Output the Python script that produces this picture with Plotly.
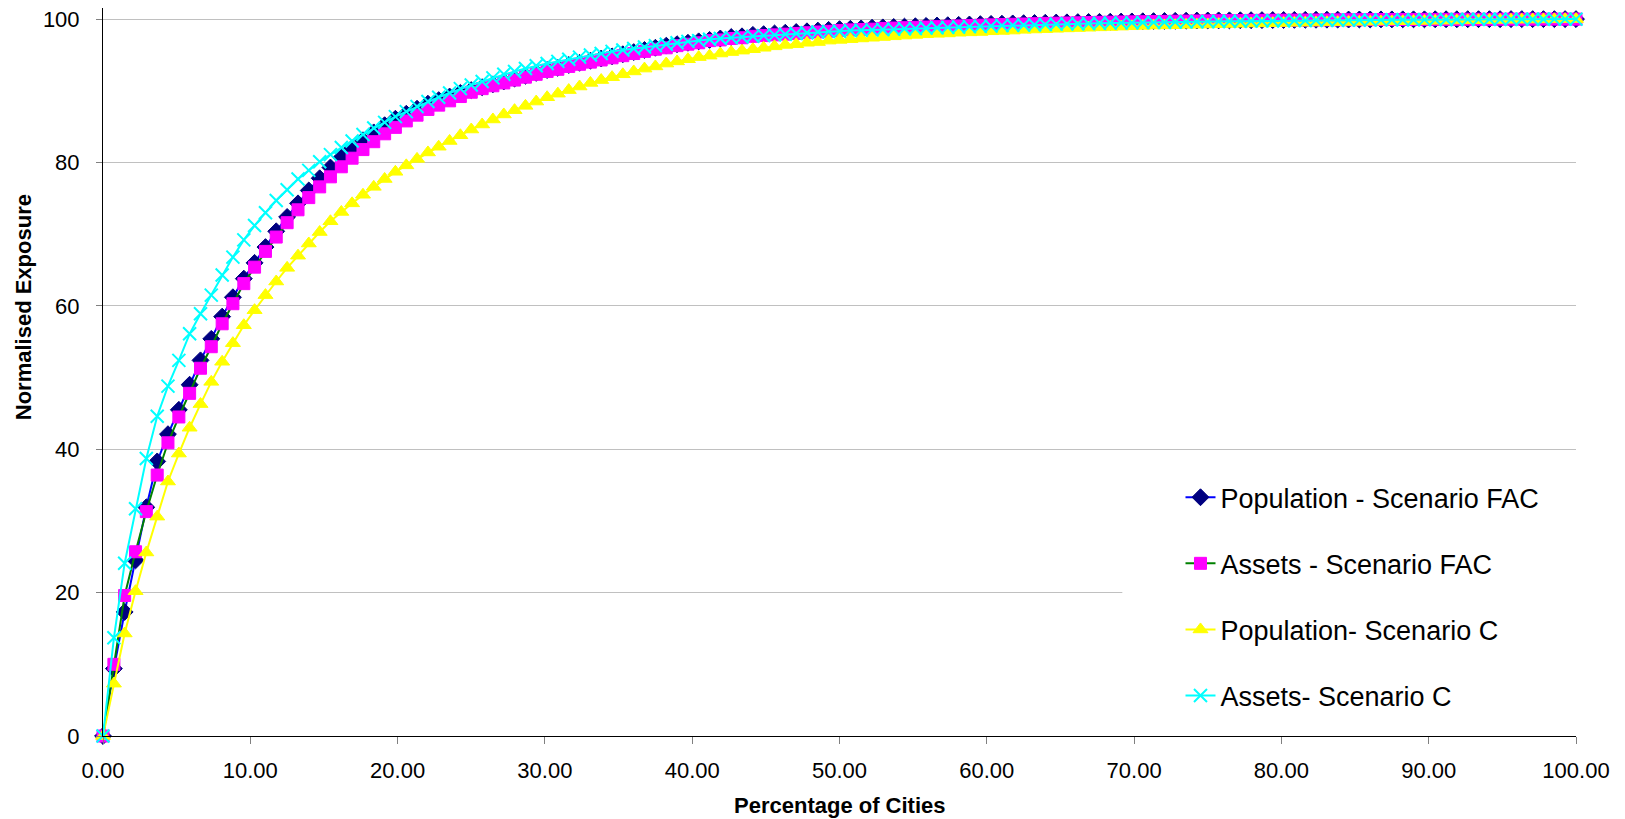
import plotly.graph_objects as go

# Percentage of cities (x)
pct_cities = [
    0.00, 0.74, 1.47, 2.21, 2.94, 3.68, 4.41, 5.15, 5.88, 6.62,
    7.35, 8.09, 8.82, 9.56, 10.29, 11.03, 11.76, 12.50, 13.24, 13.97,
    14.71, 15.44, 16.18, 16.91, 17.65, 18.38, 19.12, 19.85, 20.59, 21.32,
    22.06, 22.79, 23.53, 24.26, 25.00, 25.74, 26.47, 27.21, 27.94, 28.68,
    29.41, 30.15, 30.88, 31.62, 32.35, 33.09, 33.82, 34.56, 35.29, 36.03,
    36.76, 37.50, 38.24, 38.97, 39.71, 40.44, 41.18, 41.91, 42.65, 43.38,
    44.12, 44.85, 45.59, 46.32, 47.06, 47.79, 48.53, 49.26, 50.00, 50.74,
    51.47, 52.21, 52.94, 53.68, 54.41, 55.15, 55.88, 56.62, 57.35, 58.09,
    58.82, 59.56, 60.29, 61.03, 61.76, 62.50, 63.24, 63.97, 64.71, 65.44,
    66.18, 66.91, 67.65, 68.38, 69.12, 69.85, 70.59, 71.32, 72.06, 72.79,
    73.53, 74.26, 75.00, 75.74, 76.47, 77.21, 77.94, 78.68, 79.41, 80.15,
    80.88, 81.62, 82.35, 83.09, 83.82, 84.56, 85.29, 86.03, 86.76, 87.50,
    88.24, 88.97, 89.71, 90.44, 91.18, 91.91, 92.65, 93.38, 94.12, 94.85,
    95.59, 96.32, 97.06, 97.79, 98.53, 99.26, 100.00,
]

pop_fac = [
    0, 9.4, 17.3, 24.5, 31.9, 38.3, 42.1, 45.5, 49.0, 52.4,
    55.4, 58.5, 61.2, 63.8, 66.0, 68.2, 70.4, 72.4, 74.3, 76.1,
    77.8, 79.3, 80.7, 82.0, 83.1, 84.2, 85.2, 86.1, 86.8, 87.5,
    88.2, 88.7, 89.2, 89.7, 90.1, 90.5, 90.9, 91.3, 91.7, 92.1,
    92.5, 92.9, 93.2, 93.6, 93.9, 94.2, 94.5, 94.8, 95.1, 95.4,
    95.7, 96.0, 96.3, 96.5, 96.7, 96.9, 97.1, 97.3, 97.5, 97.6,
    97.8, 97.9, 98.0, 98.1, 98.2, 98.3, 98.4, 98.5, 98.6, 98.65,
    98.7, 98.8, 98.85, 98.9, 98.95, 99.0, 99.05, 99.1, 99.15, 99.2,
    99.25, 99.3, 99.33, 99.36, 99.4, 99.43, 99.46, 99.49, 99.52, 99.55,
    99.58, 99.6, 99.62, 99.64, 99.66, 99.68, 99.7, 99.72, 99.74, 99.76,
    99.78, 99.8, 99.81, 99.82, 99.83, 99.84, 99.85, 99.86, 99.87, 99.88,
    99.89, 99.9, 99.91, 99.92, 99.93, 99.94, 99.95, 99.95, 99.96, 99.96,
    99.97, 99.97, 99.97, 99.98, 99.98, 99.98, 99.99, 99.99, 99.99, 99.99,
    100, 100, 100, 100, 100, 100, 100,
]

assets_fac = [
    0, 10.0, 19.6, 25.7, 31.3, 36.4, 40.9, 44.5, 47.8, 51.3,
    54.3, 57.5, 60.3, 63.1, 65.4, 67.6, 69.6, 71.6, 73.4, 75.1,
    76.6, 78.0, 79.4, 80.6, 81.8, 82.9, 84.0, 84.9, 85.8, 86.6,
    87.4, 88.0, 88.6, 89.2, 89.8, 90.3, 90.7, 91.1, 91.5, 91.9,
    92.3, 92.7, 93.0, 93.4, 93.7, 94.0, 94.3, 94.6, 94.9, 95.2,
    95.5, 95.8, 96.0, 96.3, 96.5, 96.7, 97.0, 97.1, 97.3, 97.4,
    97.6, 97.7, 97.8, 97.9, 98.0, 98.1, 98.2, 98.3, 98.4, 98.5,
    98.55, 98.6, 98.7, 98.75, 98.8, 98.85, 98.9, 98.95, 99.0, 99.05,
    99.1, 99.15, 99.2, 99.24, 99.28, 99.32, 99.36, 99.4, 99.43, 99.46,
    99.49, 99.52, 99.55, 99.57, 99.6, 99.62, 99.64, 99.66, 99.68, 99.7,
    99.72, 99.74, 99.76, 99.78, 99.79, 99.8, 99.82, 99.83, 99.84, 99.85,
    99.86, 99.87, 99.88, 99.89, 99.9, 99.91, 99.92, 99.93, 99.94, 99.94,
    99.95, 99.95, 99.96, 99.96, 99.97, 99.97, 99.98, 99.98, 99.98, 99.99,
    99.99, 99.99, 99.99, 100, 100, 100, 100,
]

pop_c = [
    0, 7.3, 14.3, 20.2, 25.6, 30.6, 35.5, 39.4, 43.0, 46.3,
    49.4, 52.2, 54.8, 57.3, 59.4, 61.5, 63.4, 65.3, 67.0, 68.7,
    70.3, 71.8, 73.1, 74.3, 75.5, 76.6, 77.7, 78.7, 79.6, 80.5,
    81.4, 82.2, 83.0, 83.8, 84.6, 85.3, 86.0, 86.7, 87.3, 87.9,
    88.5, 89.1, 89.6, 90.1, 90.6, 91.1, 91.5, 91.9, 92.3, 92.7,
    93.1, 93.4, 93.8, 94.1, 94.4, 94.7, 94.9, 95.2, 95.4, 95.6,
    95.8, 96.0, 96.2, 96.4, 96.5, 96.7, 96.8, 97.0, 97.1, 97.2,
    97.3, 97.4, 97.5, 97.6, 97.7, 97.8, 97.9, 97.95, 98.0, 98.1,
    98.15, 98.2, 98.3, 98.35, 98.4, 98.5, 98.55, 98.6, 98.65, 98.7,
    98.75, 98.8, 98.85, 98.9, 98.95, 99.0, 99.05, 99.1, 99.12, 99.15,
    99.2, 99.22, 99.25, 99.3, 99.32, 99.35, 99.38, 99.4, 99.43, 99.45,
    99.48, 99.5, 99.52, 99.55, 99.57, 99.6, 99.62, 99.64, 99.66, 99.68,
    99.7, 99.72, 99.74, 99.76, 99.78, 99.8, 99.82, 99.84, 99.86, 99.88,
    99.9, 99.92, 99.94, 99.96, 99.97, 99.99, 100,
]

assets_c = [
    0, 13.7, 24.1, 31.7, 38.7, 44.6, 48.8, 52.4, 56.1, 58.9,
    61.5, 64.3, 66.8, 69.2, 71.2, 73.0, 74.7, 76.2, 77.7, 78.9,
    80.1, 81.1, 82.1, 83.0, 83.9, 84.8, 85.6, 86.4, 87.1, 87.8,
    88.5, 89.1, 89.7, 90.3, 90.8, 91.3, 91.8, 92.3, 92.7, 93.1,
    93.5, 93.8, 94.1, 94.4, 94.7, 95.0, 95.2, 95.5, 95.7, 95.9,
    96.1, 96.3, 96.5, 96.7, 96.9, 97.0, 97.2, 97.3, 97.4, 97.5,
    97.6, 97.7, 97.8, 97.9, 98.0, 98.1, 98.2, 98.25, 98.3, 98.4,
    98.45, 98.5, 98.55, 98.6, 98.65, 98.7, 98.75, 98.8, 98.85, 98.9,
    98.95, 99.0, 99.05, 99.1, 99.14, 99.18, 99.22, 99.26, 99.3, 99.33,
    99.36, 99.39, 99.42, 99.45, 99.48, 99.5, 99.53, 99.55, 99.57, 99.59,
    99.61, 99.63, 99.65, 99.67, 99.69, 99.71, 99.73, 99.75, 99.77, 99.78,
    99.8, 99.81, 99.83, 99.84, 99.85, 99.86, 99.87, 99.88, 99.89, 99.9,
    99.91, 99.92, 99.93, 99.94, 99.95, 99.95, 99.96, 99.97, 99.97, 99.98,
    99.98, 99.99, 99.99, 99.99, 100, 100, 100,
]

series_names = [
    "Population - Scenario FAC",
    "Assets - Scenario FAC",
    "Population- Scenario C",
    "Assets- Scenario C",
]
x_tick_vals = [0, 10, 20, 30, 40, 50, 60, 70, 80, 90, 100]
y_tick_vals = [0, 20, 40, 60, 80, 100]

FONT = "Liberation Sans, Arial, sans-serif"

styles = [
    dict(line=dict(color="#0000FF", width=2),
         marker=dict(symbol="diamond", size=13, color="#000080",
                     line=dict(color="#000080", width=1))),
    dict(line=dict(color="#008000", width=2),
         marker=dict(symbol="square", size=12, color="#FF00FF",
                     line=dict(color="#FF00FF", width=1))),
    dict(line=dict(color="#FFFF00", width=2),
         marker=dict(symbol="triangle-up", size=13, color="#FFFF00",
                     line=dict(color="#FFFF00", width=1))),
    dict(line=dict(color="#00FFFF", width=2),
         marker=dict(symbol="x-thin-open", size=13, color="#00FFFF",
                     line=dict(color="#00FFFF", width=2))),
]

data_series = [pop_fac, assets_fac, pop_c, assets_c]

fig = go.Figure()
for name, ys, st in zip(series_names, data_series, styles):
    fig.add_trace(go.Scatter(
        x=pct_cities, y=ys, name=name, mode="lines+markers",
        line=st["line"], marker=st["marker"], cliponaxis=False,
        legendgroup=name,
    ))

fig.update_layout(
    width=1625, height=819, autosize=False,
    margin=dict(l=103, r=49, t=8, b=83),
    paper_bgcolor="white", plot_bgcolor="white",
    font=dict(family=FONT, color="black", size=22),
    showlegend=True,
    legend=dict(
        x=0.7315, xanchor="left", y=0.361, yanchor="top",
        bgcolor="rgba(0,0,0,0)", borderwidth=0,
        font=dict(family=FONT, size=27, color="black"),
        tracegroupgap=28,
    ),
    xaxis=dict(
        range=[0, 100], tickvals=x_tick_vals, tickformat=".2f",
        showgrid=False, zeroline=False,
        showline=True, linecolor="black", linewidth=1,
        ticks="outside", ticklen=7, tickcolor="#808080", tickwidth=1,
        tickfont=dict(family=FONT, size=22, color="black"),
        ticklabelstandoff=8,
    ),
    yaxis=dict(
        range=[0, 101.55], tickvals=y_tick_vals,
        showgrid=True, gridcolor="#C0C0C0", gridwidth=1, zeroline=False,
        showline=True, linecolor="black", linewidth=1,
        ticks="outside", ticklen=6, tickcolor="#808080", tickwidth=1,
        tickfont=dict(family=FONT, size=22, color="black"),
        ticklabelstandoff=12,
    ),
    shapes=[
        dict(type="rect", xref="paper", yref="paper",
             x0=0.692, x1=1.0, y0=0.02, y1=0.33,
             fillcolor="white", line=dict(width=0), layer="above"),
    ],
    annotations=[
        dict(text="<b>Percentage of Cities</b>", xref="paper", yref="paper",
             x=0.5, y=-0.0954, xanchor="center", yanchor="middle",
             showarrow=False, font=dict(family=FONT, size=22, color="black")),
        dict(text="<b>Normalised Exposure</b>", xref="paper", yref="paper",
             x=-0.0543, y=0.589, xanchor="center", yanchor="middle",
             textangle=-90, showarrow=False,
             font=dict(family=FONT, size=22, color="black")),
    ],
)

fig.write_html("out.html")
